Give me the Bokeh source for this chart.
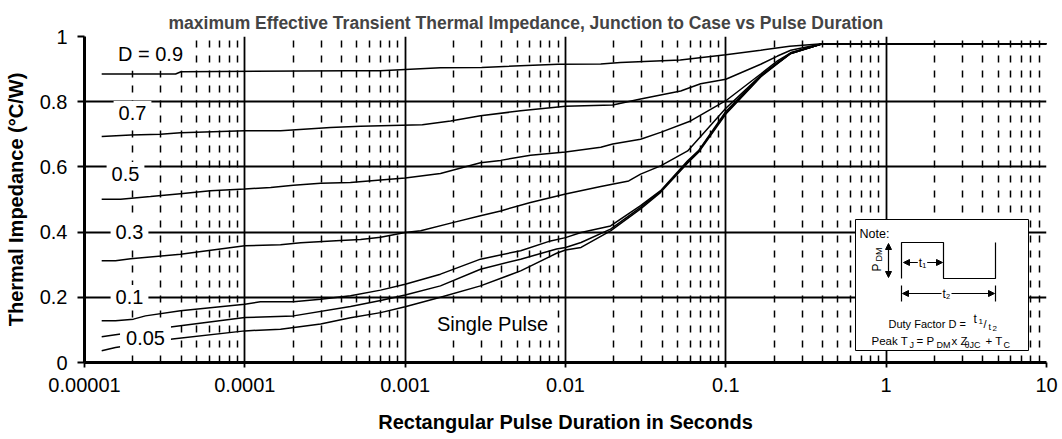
from bokeh.plotting import figure
from bokeh.models import Range1d, FixedTicker, Label, Arrow, NormalHead
from bokeh.embed import file_html
from bokeh.resources import INLINE

# ---------------- data ----------------
title_text = "maximum Effective Transient Thermal Impedance, Junction to Case vs Pulse Duration"
x_label = "Rectangular Pulse Duration in Seconds"
y_label = "Thermal Impedance (\u00b0C/W)"

x_ticks = [0.00001, 0.0001, 0.001, 0.01, 0.1, 1, 10]
x_tick_labels = ["0.00001", "0.0001", "0.001", "0.01", "0.1", "1", "10"]
y_ticks = [0, 0.2, 0.4, 0.6, 0.8, 1.0]
y_tick_labels = ["0", "0.2", "0.4", "0.6", "0.8", "1"]

t_d09 = [1.28e-5, 3.7e-5, 4.0e-5, 4.5e-4, 7e-4, 1.66e-3, 3e-3, 9e-3, 1.66e-2, 2.2e-2, 5.2e-2, 0.1, 0.165, 0.25, 0.4, 10]
z_d09 = [0.885, 0.885, 0.892, 0.895, 0.895, 0.904, 0.905, 0.915, 0.916, 0.92, 0.928, 0.944, 0.958, 0.97, 0.978, 0.978]

t_d07 = [1.28e-5, 1.94e-5, 2.98e-5, 3.97e-5, 1e-4, 1.67e-4, 3.42e-4, 5.27e-4, 1.28e-3, 1.92e-3, 2.95e-3, 5.25e-3, 0.01, 1.97e-2, 2.94e-2, 5.23e-2, 6.96e-2, 0.1, 0.165, 0.21, 0.254, 0.4, 10]
z_d07 = [0.693, 0.698, 0.70, 0.705, 0.711, 0.711, 0.721, 0.725, 0.729, 0.741, 0.757, 0.772, 0.786, 0.79, 0.808, 0.833, 0.855, 0.869, 0.915, 0.94, 0.958, 0.978, 0.978]

t_d05 = [1.28e-5, 1.68e-5, 2.58e-5, 3.97e-5, 6.1e-5, 1e-4, 1.45e-4, 2.01e-4, 2.97e-4, 4.56e-4, 7.03e-4, 1e-3, 1.66e-3, 2.95e-3, 3.94e-3, 6.05e-3, 0.01, 1.66e-2, 1.97e-2, 2.94e-2, 3.92e-2, 6.03e-2, 0.1, 0.165, 0.21, 0.254, 0.4, 10]
z_d05 = [0.501, 0.501, 0.509, 0.518, 0.527, 0.532, 0.537, 0.544, 0.55, 0.552, 0.56, 0.566, 0.58, 0.613, 0.62, 0.636, 0.646, 0.66, 0.67, 0.685, 0.706, 0.741, 0.803, 0.885, 0.925, 0.95, 0.978, 0.978]

t_d03 = [1.28e-5, 1.56e-5, 1.94e-5, 3.97e-5, 1e-4, 1.67e-4, 2.23e-4, 3.95e-4, 5.27e-4, 7.03e-4, 1e-3, 1.25e-3, 1.98e-3, 2.95e-3, 3.94e-3, 6.05e-3, 0.01, 1.66e-2, 2.48e-2, 2.94e-2, 3.92e-2, 5.78e-2, 0.1, 0.165, 0.21, 0.254, 0.4, 10]
z_d03 = [0.312, 0.312, 0.318, 0.332, 0.358, 0.361, 0.367, 0.374, 0.377, 0.384, 0.399, 0.404, 0.429, 0.45, 0.465, 0.491, 0.517, 0.54, 0.557, 0.578, 0.603, 0.649, 0.78, 0.88, 0.92, 0.95, 0.978, 0.978]

t_d01 = [1.28e-5, 1.56e-5, 2.02e-5, 2.4e-5, 3.97e-5, 1e-4, 1.25e-4, 2.01e-4, 2.97e-4, 4.56e-4, 7.03e-4, 1e-3, 1.66e-3, 2.95e-3, 5.25e-3, 8.07e-3, 0.01, 1.25e-2, 1.91e-2, 2.94e-2, 3.92e-2, 5.78e-2, 6.76e-2, 0.1, 0.165, 0.21, 0.254, 0.4, 10]
z_d01 = [0.128, 0.128, 0.133, 0.143, 0.159, 0.179, 0.186, 0.186, 0.194, 0.205, 0.222, 0.24, 0.271, 0.317, 0.343, 0.373, 0.383, 0.399, 0.419, 0.481, 0.527, 0.619, 0.65, 0.77, 0.88, 0.918, 0.948, 0.978, 0.978]

t_d005 = [1.28e-5, 1.56e-5, 3.54e-5, 1e-4, 2.01e-4, 4.56e-4, 7.03e-4, 1e-3, 1.66e-3, 2.95e-3, 5.25e-3, 8.8e-3, 0.01, 1.25e-2, 1.91e-2, 2.94e-2, 3.92e-2, 5.78e-2, 6.76e-2, 0.1, 0.165, 0.21, 0.254, 0.4, 10]
z_d005 = [0.079, 0.085, 0.11, 0.138, 0.143, 0.172, 0.19, 0.207, 0.235, 0.286, 0.317, 0.348, 0.353, 0.368, 0.409, 0.476, 0.525, 0.615, 0.648, 0.765, 0.878, 0.918, 0.948, 0.978, 0.978]

t_single = [1.28e-5, 1.56e-5, 3.54e-5, 1e-4, 1.67e-4, 2.97e-4, 4.56e-4, 7.03e-4, 1e-3, 1.66e-3, 2.95e-3, 5.25e-3, 8.8e-3, 0.01, 1.25e-2, 1.91e-2, 2.94e-2, 3.92e-2, 5.78e-2, 6.76e-2, 0.1, 0.165, 0.21, 0.254, 0.4, 10]
z_single = [0.036, 0.046, 0.072, 0.097, 0.102, 0.118, 0.137, 0.153, 0.171, 0.2, 0.235, 0.281, 0.335, 0.345, 0.353, 0.404, 0.471, 0.522, 0.612, 0.645, 0.762, 0.876, 0.917, 0.948, 0.978, 0.978]

curve_labels = ["D = 0.9", "0.7", "0.5", "0.3", "0.1", "0.05", "Single Pulse"]

# ---------------- layout helpers (page pixels -> data) ----------------
FL, FR, FT, FB = 84.0, 1046.0, 36.0, 362.0


def xd(px):
    return 10 ** (-5 + 6 * (px - FL) / (FR - FL))


def yd(py):
    return (FB - py) / (FB - FT)


FONT = "Liberation Sans"

p = figure(width=1062, height=439, x_axis_type="log",
           x_range=Range1d(1e-5, 10), y_range=Range1d(0, 1),
           output_backend="svg", toolbar_location=None,
           min_border_left=84, min_border_right=16, min_border_top=36, min_border_bottom=77)
p.outline_line_color = None
p.background_fill_color = "white"
p.border_fill_color = "white"

# title
p.title.text = title_text
p.title.text_font = FONT
p.title.text_font_size = "17.5px"
p.title.text_font_style = "bold"
p.title.align = "left"
p.title.offset = 84
p.title.standoff = 8

# axes
minor = [m * 10.0 ** e for e in range(-5, 1) for m in range(2, 10)]
p.xaxis.ticker = FixedTicker(ticks=x_ticks, minor_ticks=minor)
p.xaxis.major_label_overrides = dict(zip(x_ticks, x_tick_labels))
p.xaxis.axis_label = x_label
for ax in (p.xaxis[0], p.yaxis[0]):
    ax.axis_line_width = 3
    ax.axis_line_color = "black"
    ax.major_tick_line_color = "black"
    ax.major_tick_line_width = 1.8
    ax.major_tick_in = 0
    ax.minor_tick_in = 0
    ax.minor_tick_out = 0
    ax.major_label_text_font = FONT
    ax.major_label_text_font_size = "20px"
    ax.major_label_text_color = "black"
    ax.axis_label_text_font = FONT
    ax.axis_label_text_font_size = "20px"
    ax.axis_label_text_font_style = "bold"
    ax.axis_label_text_color = "black"
    ax.major_label_standoff = 10
p.xaxis.major_tick_out = 5
p.xaxis.axis_label_standoff = 16

p.yaxis.ticker = FixedTicker(ticks=y_ticks)
p.yaxis.major_label_overrides = dict(zip(y_ticks, y_tick_labels))
p.yaxis.axis_label = y_label
p.yaxis.major_tick_out = 7
p.yaxis.axis_label_standoff = 10

# grids
p.xgrid.grid_line_color = "black"
p.xgrid.grid_line_width = 1.8
p.xgrid.minor_grid_line_color = "black"
p.xgrid.minor_grid_line_width = 1.5
p.xgrid.minor_grid_line_dash = "7 8"
p.ygrid.ticker = FixedTicker(ticks=y_ticks)
p.ygrid.grid_line_color = "black"
p.ygrid.grid_line_width = 1.8

# curves
for t, z in [(t_d09, z_d09), (t_d07, z_d07), (t_d05, z_d05), (t_d03, z_d03),
             (t_d01, z_d01), (t_d005, z_d005), (t_single, z_single)]:
    p.line(t, z, line_color="black", line_width=1.5)

# curve labels (white boxes)
label_px = [(150, 53), (132, 112.5), (125, 173.5), (129, 231.5), (129, 296.5), (145, 337.5), (492, 323.5)]
label_pad = [6, 5, 5, 5, 5, 6, 4]
for txt_, (px, py), pad in zip(curve_labels, label_px, label_pad):
    p.add_layout(Label(x=xd(px), y=yd(py), text=txt_, text_align="center", text_baseline="middle",
                       text_font=FONT, text_font_size="20px", text_color="black",
                       background_fill_color="white", padding=pad))

# ---------------- note inset ----------------
p.quad(left=[xd(855)], right=[xd(1028)], top=[yd(219)], bottom=[yd(350)],
       fill_color="white", line_color="black", line_width=1, level="annotation")
p.line([xd(v) for v in [901, 901, 943, 943, 995, 995]],
       [yd(v) for v in [278, 242, 242, 278, 278, 242]],
       line_color="black", line_width=1.2, level="annotation")
for xv in (901, 995):
    p.line([xd(xv), xd(xv)], [yd(285), yd(301)], line_color="black", line_width=1.2, level="annotation")


def dbl_arrow(x0, y0, x1, y1):
    p.add_layout(Arrow(x_start=xd(x0), y_start=yd(y0), x_end=xd(x1), y_end=yd(y1),
                       line_width=1.2, line_color="black",
                       start=NormalHead(size=6, fill_color="black", line_color="black"),
                       end=NormalHead(size=6, fill_color="black", line_color="black")))


dbl_arrow(888, 243, 888, 277)
dbl_arrow(903, 262, 942, 262)
dbl_arrow(902, 293, 994, 293)


def txt(s, px, py, size, align="left", baseline="alphabetic", angle=0, bg=None):
    p.add_layout(Label(x=xd(px), y=yd(py), text=s, text_align=align, text_baseline=baseline,
                       text_font=FONT, text_font_size=f"{size}px", text_color="black",
                       angle=angle, angle_units="deg",
                       background_fill_color=bg, padding=1))


txt("Note:", 858, 233, 12.5)
txt("t\u2081", 922, 262, 12, align="center", baseline="middle", bg="white")
txt("t\u2082", 946, 293, 12, align="center", baseline="middle", bg="white")
txt("P", 876, 267, 12, align="center", baseline="middle", angle=90)
txt("DM", 878, 254, 9, align="center", baseline="middle", angle=90)
txt("Duty Factor  D = ", 887, 323, 11)
txt("t", 972, 318, 12)
txt("1", 977, 321, 8)
txt("/", 982, 323, 11)
txt("t", 987, 326, 9)
txt("2", 991, 328, 8)
for s, px, sub in [("Peak T", 870, False), ("J", 908, True), ("= P", 915, False), ("DM", 935, True),
                   ("x Z", 950, False), ("\u03b8JC", 963, True), ("+ T", 984, False), ("C", 1002, True)]:
    txt(s, px, 344 if sub else 340, 9 if sub else 11.5)

open("out.html", "w").write(file_html(p, INLINE))
